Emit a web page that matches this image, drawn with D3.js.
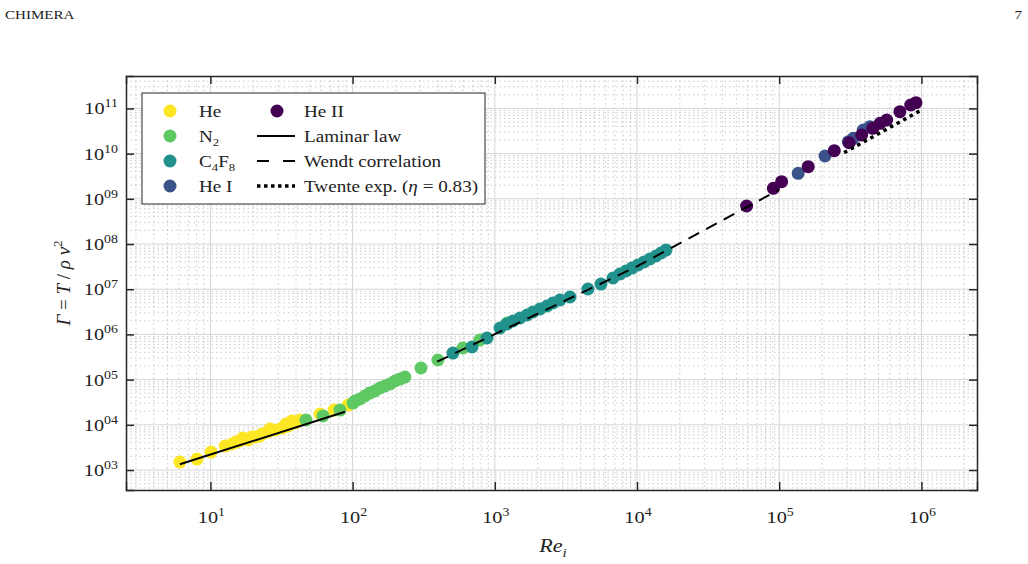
<!DOCTYPE html>
<html>
<head>
<meta charset="utf-8">
<script src="https://cdn.jsdelivr.net/npm/d3@7"></script>
<style>
  body { margin: 0; background: #fff; }
  svg text { fill: #222; }
</style>
</head>
<body>
<div id="chartParent"></div>
<script>
// data, [Re_i, Gamma]
const heData = [
  [6.1, 1500], [8.05, 1750], [10.1, 2500], [12.7, 3400], [14.2, 3760], [15.1, 4160],
  [16.1, 4380], [16.9, 5100], [18.4, 4610], [19.6, 5370], [20.6, 5370], [22.3, 5650],
  [23.1, 6260], [25.4, 6930], [26.2, 8070], [28.5, 7670], [31.9, 8490], [34.0, 10400],
  [35.1, 9400], [37.5, 12100], [39.4, 10960], [42.7, 12770], [59.0, 17300], [74.0, 21200],
  [92.9, 27400]
];
const n2Data = [
  [47.0, 12770], [61.9, 15700], [81.5, 21200], [100.7, 30300], [104, 33600], [112.7, 37300],
  [122, 43400], [132, 50500], [143.6, 56000], [155.6, 65200], [169, 72200], [183, 80000],
  [198.6, 93100], [215.4, 103000], [233, 114000], [302.6, 180600], [398, 271600],
  [597, 500000], [786, 752000], [1220, 1786000]
];
const c4f8Data = [
  [508, 387000], [692, 526000], [882, 832000], [1088, 1.386e6], [1220, 1.70e6], [1343, 1.98e6],
  [1504, 2.31e6], [1686, 2.69e6], [1855, 3.13e6], [2080, 3.65e6], [2330, 4.25e6], [2566, 4.95e6],
  [2875, 5.77e6], [3380, 6.72e6], [4520, 1.01e7], [5580, 1.30e7], [6780, 1.77e7], [7590, 2.17e7],
  [8360, 2.53e7], [9210, 2.94e7], [10160, 3.43e7], [11190, 4.00e7], [12330, 4.66e7],
  [13590, 5.43e7], [14750, 6.32e7], [16000, 7.36e7]
];
const heIData = [
  [1.36e5, 3.66e9], [2.10e5, 8.85e9], [3.06e5, 1.83e10], [3.32e5, 2.18e10], [3.90e5, 3.33e10],
  [4.35e5, 3.94e10]
];
const heIIData = [
  [5.90e4, 6.93e8], [9.10e4, 1.71e9], [1.04e5, 2.39e9], [1.60e5, 5.13e9], [2.44e5, 1.16e10],
  [3.11e5, 1.74e10], [3.80e5, 2.58e10], [4.55e5, 3.63e10], [5.12e5, 4.68e10], [5.70e5, 5.54e10],
  [7.06e5, 8.45e10], [8.41e5, 1.19e11], [9.16e5, 1.34e11]
];
const laminarLine = [[6.1, 1337], [88.5, 19500]];
const wendtLine = [[393, 2.49e5], [1e4, 3.2e7], [1e5, 1.6e9]];
const twenteLine = [[2.86e5, 1.05e10], [1.0e6, 9.2e10]];

const xTicks = [1e1, 1e2, 1e3, 1e4, 1e5, 1e6];
const xTickExp = ["1", "2", "3", "4", "5", "6"];
const yTicks = [1e3, 1e4, 1e5, 1e6, 1e7, 1e8, 1e9, 1e10, 1e11];
const yTickExp = ["03", "04", "05", "06", "07", "08", "09", "10", "11"];

const series = [
  { name: "He", data: heData, color: "#fde725" },
  { name: "N2", data: n2Data, color: "#5ec962" },
  { name: "C4F8", data: c4f8Data, color: "#21918c" },
  { name: "He I", data: heIData, color: "#3b528b" },
  { name: "He II", data: heIIData, color: "#440154" }
];

const W = 1028, H = 564;
const margin = { top: 76, right: 51, bottom: 74, left: 126 };
const width = W - margin.left - margin.right,
      height = H - margin.top - margin.bottom;
const serif = "'Liberation Serif', 'Times New Roman', Times, serif";
// the figure's type is a little wider than Liberation Serif
const SX = 1.16;

const svg = d3.select("#chartParent")
  .append("svg")
  .attr("width", W)
  .attr("height", H)
  .attr("font-family", serif);

// text placed at (xp, yp) and stretched horizontally
function wideText(parent, xp, yp, size, anchor) {
  return parent.append("g")
    .attr("transform", `translate(${xp},${yp}) scale(${SX},1)`)
    .append("text")
    .attr("text-anchor", anchor || "start")
    .attr("font-family", serif)
    .style("font-size", size + "px");
}

// page header
wideText(svg, 5, 19, 13, "start").text("CHIMERA");
wideText(svg, 1022, 19, 13, "end").text("7");

const g = svg.append("g")
  .attr("transform", `translate(${margin.left}, ${margin.top})`);

const x = d3.scaleLog()
  .domain([Math.pow(10, 0.4065), Math.pow(10, 6.391)])
  .range([0, width]);
const y = d3.scaleLog()
  .domain([Math.pow(10, 2.558), Math.pow(10, 11.717)])
  .range([height, 0]);

// minor grid (dotted)
const xMinor = [], yMinor = [];
for (let e = 0; e <= 6; e++) for (let m = 2; m <= 9; m++) {
  const v = m * Math.pow(10, e);
  if (v > x.domain()[0] && v < x.domain()[1]) xMinor.push(v);
}
for (let e = 2; e <= 11; e++) for (let m = 2; m <= 9; m++) {
  const v = m * Math.pow(10, e);
  if (v > y.domain()[0] && v < y.domain()[1]) yMinor.push(v);
}
g.append("g").selectAll("line").data(xMinor).enter().append("line")
  .attr("x1", d => x(d)).attr("x2", d => x(d)).attr("y1", 0).attr("y2", height)
  .attr("stroke", "#9a9a9a").attr("stroke-opacity", 0.5)
  .attr("stroke-width", 1).attr("stroke-dasharray", "1.5,3");
g.append("g").selectAll("line").data(yMinor).enter().append("line")
  .attr("y1", d => y(d)).attr("y2", d => y(d)).attr("x1", 0).attr("x2", width)
  .attr("stroke", "#9a9a9a").attr("stroke-opacity", 0.5)
  .attr("stroke-width", 1).attr("stroke-dasharray", "1.5,3");

// major grid
g.append("g").selectAll("line").data(xTicks).enter().append("line")
  .attr("x1", d => x(d)).attr("x2", d => x(d)).attr("y1", 0).attr("y2", height)
  .attr("stroke", "#d6d6d6").attr("stroke-width", 1);
g.append("g").selectAll("line").data(yTicks).enter().append("line")
  .attr("y1", d => y(d)).attr("y2", d => y(d)).attr("x1", 0).attr("x2", width)
  .attr("stroke", "#d6d6d6").attr("stroke-width", 1);

// scatter
series.forEach(function (s) {
  g.append("g")
    .selectAll("circle")
    .data(s.data)
    .enter()
    .append("circle")
      .attr("cx", d => x(d[0]))
      .attr("cy", d => y(d[1]))
      .attr("r", 6.5)
      .style("fill", s.color);
});

const line = d3.line().x(d => x(d[0])).y(d => y(d[1]));
g.append("path").attr("d", line(laminarLine))
  .attr("fill", "none").attr("stroke", "#000").attr("stroke-width", 2);
g.append("path").attr("d", line(wendtLine))
  .attr("fill", "none").attr("stroke", "#000").attr("stroke-width", 2)
  .attr("stroke-dasharray", "12,8");
g.append("path").attr("d", line(twenteLine))
  .attr("fill", "none").attr("stroke", "#000").attr("stroke-width", 3.5)
  .attr("stroke-dasharray", "3.5,4");

// axes: ticks inward on all four sides
g.append("g").attr("transform", `translate(0,${height})`)
  .call(d3.axisBottom(x).tickValues(xTicks).tickSize(-8).tickFormat(""));
g.append("g")
  .call(d3.axisTop(x).tickValues(xTicks).tickSize(-8).tickFormat(""));
g.append("g")
  .call(d3.axisLeft(y).tickValues(yTicks).tickSize(-8).tickFormat(""));
g.append("g").attr("transform", `translate(${width},0)`)
  .call(d3.axisRight(y).tickValues(yTicks).tickSize(-8).tickFormat(""));
g.selectAll(".domain").attr("stroke", "#262626").attr("stroke-width", 1.5);
g.selectAll(".tick line").attr("stroke", "#262626").attr("stroke-width", 1.5);

// tick labels
xTicks.forEach(function (d, i) {
  const t = wideText(g, x(d) + 1, height + 33, 17.5, "middle");
  t.append("tspan").text("10");
  t.append("tspan").attr("dy", -7).style("font-size", "12px").text(xTickExp[i]);
});
yTicks.forEach(function (d, i) {
  const t = wideText(g, -8, y(d) + 6, 17.5, "end");
  t.append("tspan").text("10");
  t.append("tspan").attr("dy", -7).style("font-size", "12px").text(yTickExp[i]);
});

// axis titles
const xt = wideText(svg, 553, 552, 19, "middle").style("font-style", "italic");
xt.append("tspan").text("Re");
xt.append("tspan").attr("dy", 5).style("font-size", "13px").text("i");

const yt = svg.append("text").attr("transform", "translate(70,283) rotate(-90)")
  .attr("text-anchor", "middle").attr("font-family", serif).style("font-size", "19px");
yt.append("tspan").style("font-style", "italic").text("Γ");
yt.append("tspan").text(" = ");
yt.append("tspan").style("font-style", "italic").text("T");
yt.append("tspan").text(" / ");
yt.append("tspan").style("font-style", "italic").text("ρ ν");
yt.append("tspan").attr("dy", -8).style("font-size", "13px").text("2");

// legend
const lg = svg.append("g");
lg.append("rect").attr("x", 142).attr("y", 93).attr("width", 343).attr("height", 111)
  .attr("fill", "#fff").attr("stroke", "#262626").attr("stroke-width", 1);
const rowY = [111, 136, 161, 186];
const legLeft = series.slice(0, 4);
legLeft.forEach(function (s, i) {
  lg.append("circle").attr("cx", 170).attr("cy", rowY[i]).attr("r", 6.5).style("fill", s.color);
});
function legText(xp, yp) {
  return wideText(lg, xp, yp + 6, 16.5, "start");
}
legText(199, rowY[0]).text("He");
const tN2 = legText(199, rowY[1]);
tN2.append("tspan").text("N");
tN2.append("tspan").attr("dy", 4).style("font-size", "11px").text("2");
const tC = legText(199, rowY[2]);
tC.append("tspan").text("C");
tC.append("tspan").attr("dy", 4).style("font-size", "11px").text("4");
tC.append("tspan").attr("dy", -4).text("F");
tC.append("tspan").attr("dy", 4).style("font-size", "11px").text("8");
legText(199, rowY[3]).text("He I");

lg.append("circle").attr("cx", 277).attr("cy", rowY[0]).attr("r", 6.5).style("fill", series[4].color);
legText(304, rowY[0]).text("He II");
lg.append("line").attr("x1", 257).attr("x2", 295).attr("y1", rowY[1]).attr("y2", rowY[1])
  .attr("stroke", "#000").attr("stroke-width", 2);
legText(304, rowY[1]).text("Laminar law");
lg.append("line").attr("x1", 257).attr("x2", 295).attr("y1", rowY[2]).attr("y2", rowY[2])
  .attr("stroke", "#000").attr("stroke-width", 2).attr("stroke-dasharray", "12,14");
legText(304, rowY[2]).text("Wendt correlation");
lg.append("line").attr("x1", 257).attr("x2", 295).attr("y1", rowY[3]).attr("y2", rowY[3])
  .attr("stroke", "#000").attr("stroke-width", 3.5).attr("stroke-dasharray", "3.5,3.5");
const tT = legText(304, rowY[3]);
tT.append("tspan").text("Twente exp. (");
tT.append("tspan").style("font-style", "italic").text("η");
tT.append("tspan").text(" = 0.83)");
</script>
</body>
</html>
